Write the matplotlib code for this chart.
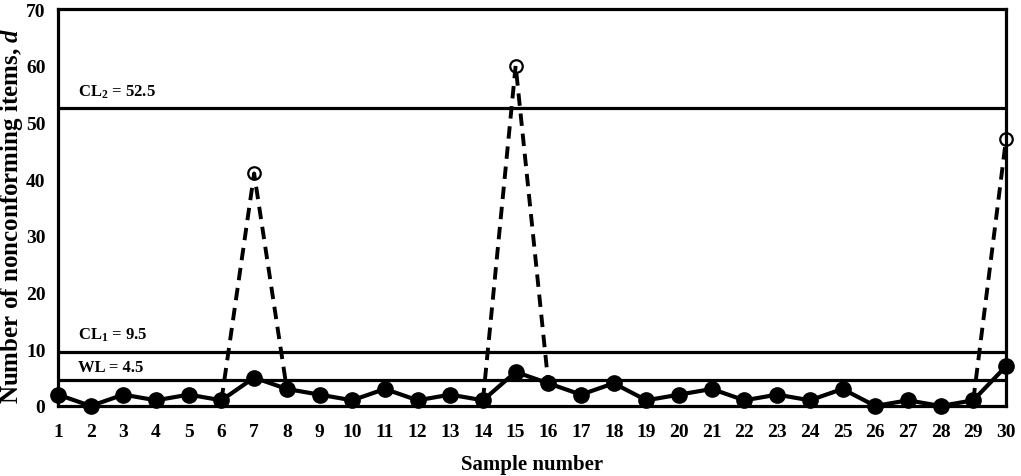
import numpy as np
import matplotlib
matplotlib.use("Agg")
import matplotlib.pyplot as plt

plt.rcParams["font.family"] = ["Liberation Serif", "DejaVu Serif"]
plt.rcParams["font.weight"] = "bold"
plt.rcParams["mathtext.fontset"] = "custom"
plt.rcParams["mathtext.rm"] = "Liberation Serif:bold"
plt.rcParams["mathtext.bf"] = "Liberation Serif:bold"
plt.rcParams["mathtext.it"] = "Liberation Serif:italic:bold"

# data
samples = np.arange(1, 31)
d_values = [2, 0, 2, 1, 2, 1, 5, 3, 2, 1, 3, 1, 2, 1, 6,
            4, 2, 4, 1, 2, 3, 1, 2, 1, 3, 0, 1, 0, 1, 7]
peak_samples = [7, 15, 30]
peak_values = [41, 60, 47]
limit_values = [52.5, 9.5, 4.5]
limit_labels = [r"CL$_{2}$ = 52.5", r"CL$_{1}$ = 9.5", "WL = 4.5"]
label_y = [55.5, 12.7, 6.9]

fig = plt.figure(figsize=(10.21, 4.77), dpi=100)
ax = fig.add_axes([0.0568, 0.1468, 0.9285, 0.8322])

# horizontal control / warning lines
for v in limit_values:
    ax.axhline(v, color="black", lw=2.3, zorder=1)
for txt, y in zip(limit_labels, label_y):
    ax.text(1.6, y, txt, fontsize=12, fontweight="bold", va="center", ha="left")

# dashed excursions to the peaks
for p, pv in zip(peak_samples, peak_values):
    i = p - 1
    xs = [samples[i - 1], p]
    ys = [d_values[i - 1], pv]
    if i + 1 < len(samples):
        xs.append(samples[i + 1])
        ys.append(d_values[i + 1])
    ax.plot(xs, ys, color="black", lw=2.8, ls=(0, (3.2, 2.0)), zorder=2)
ax.plot(peak_samples, peak_values, "o", ms=9, mfc="none", mec="black",
        mew=1.6, zorder=3, clip_on=False)

# main series
ax.plot(samples, d_values, "-o", color="black", lw=3, ms=11, zorder=4,
        clip_on=False)

ax.set_xlim(1, 30)
ax.set_ylim(0, 70)
ax.set_xticks(samples)
ax.set_yticks(np.arange(0, 71, 10))
ax.tick_params(length=0, labelsize=14)
ax.tick_params(axis="x", pad=12)
ax.tick_params(axis="y", pad=9)
for lab in ax.get_xticklabels() + ax.get_yticklabels():
    lab.set_fontweight("bold")
for s in ax.spines.values():
    s.set_linewidth(2.3)

ax.set_xlabel("Sample number", fontsize=15, fontweight="bold", labelpad=10)
fig.text(12 / 1021, 0.547, r"Number of nonconforming items, $d$", fontsize=18,
         fontweight="bold", rotation=90, ha="center", va="center")

fig.savefig("out.png", dpi=100)
